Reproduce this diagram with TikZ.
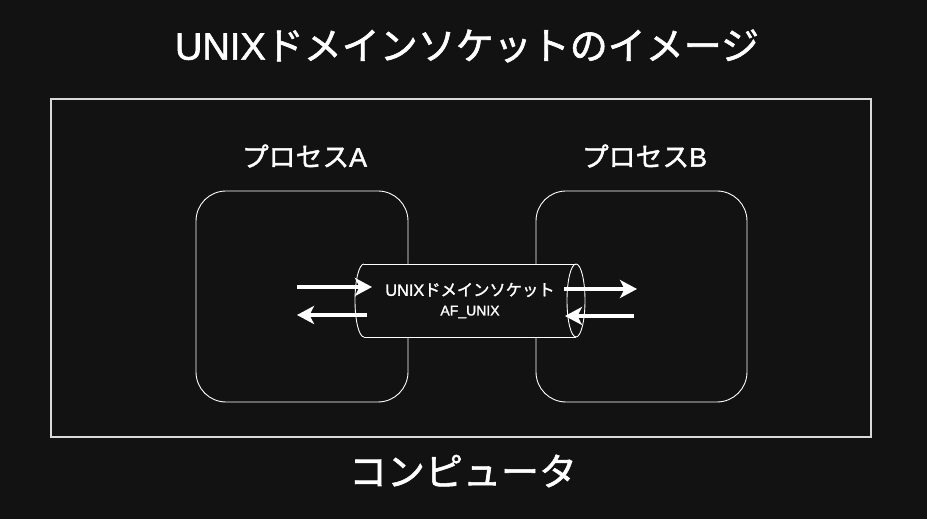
\documentclass[tikz,border=0pt]{standalone}
\usepackage{fontspec}
\setmainfont[FakeBold=1.5]{Liberation Sans}
\newfontfamily\jp[FakeBold=1.5]{Noto Sans CJK JP}
\usetikzlibrary{arrows.meta}
\definecolor{bg}{HTML}{121212}
\definecolor{fg}{HTML}{FFFFFF}
\begin{document}
\begin{tikzpicture}[x=1pt,y=1pt,
  every node/.style={text=fg, inner sep=0pt, outer sep=0pt},
  outerbox/.style={draw=fg!85!black, line width=1.1pt},
  procbox/.style={draw=fg, line width=0.9pt, rounded corners=30pt, minimum width=212pt, minimum height=211pt},
  cyl/.style={draw=fg, line width=0.9pt},
  flow/.style={draw=fg, line width=3.3pt, -{Stealth[length=17pt,width=18pt,inset=4.5pt]}},
  titlefont/.style={font=\fontsize{38}{44}\selectfont},
  labelfont/.style={font=\fontsize{26.8}{30}\selectfont},
]
\fill[bg] (0,0) rectangle (927,519);
\useasboundingbox (0,0) rectangle (927,519);

\node[titlefont] (title) at (467,473) {UNIX{\jp ドメインソケットのイメージ}};
\node[outerbox, minimum width=820pt, minimum height=338pt] (pc) at (461,251) {};
\node[titlefont] (pclabel) at (463,48) {\jp コンピュータ};

\node[procbox] (pa) at (302,222.5) {};
\node[procbox, minimum width=211pt] (pb) at (641.5,222.5) {};
\node[labelfont] (la) at (304.5,363) {{\jp プロセス}A};
\node[labelfont] (lb) at (644.5,363) {{\jp プロセス}B};

% socket cylinder
\node[minimum width=212pt, minimum height=73pt] (sock) at (470,218.5) {};
\fill[bg] (sock.north west) -- (sock.north east)
  arc[start angle=90, end angle=-90, x radius=9, y radius=36.5]
  -- (sock.south west)
  arc[start angle=270, end angle=90, x radius=9, y radius=36.5] -- cycle;
\draw[cyl] (sock.north west) -- (sock.north east);
\draw[cyl] (sock.south west) -- (sock.south east);
\draw[cyl] (sock.north west) arc[start angle=90, end angle=270, x radius=9, y radius=36.5];
\draw[cyl] (sock.east) ellipse[x radius=9, y radius=36.5];
\node[font=\fontsize{16.3}{20}\selectfont] (s1) at (470,229) {UNIX{\jp ドメインソケット}};
\node[font=\fontsize{14}{18}\selectfont] (s2) at (470,207) {AF\_UNIX};

% arrows
\coordinate (a1s) at (297,232); \coordinate (a1e) at (372,232);
\coordinate (a2s) at (367,204); \coordinate (a2e) at (297,204);
\coordinate (b1s) at (564,230); \coordinate (b1e) at (637,230);
\coordinate (b2s) at (634,203); \coordinate (b2e) at (565,203);
\draw[flow] (a1s) -- (a1e);
\draw[flow] (a2s) -- (a2e);
\draw[flow] (b1s) -- (b1e);
\draw[flow] (b2s) -- (b2e);
\end{tikzpicture}
\end{document}
